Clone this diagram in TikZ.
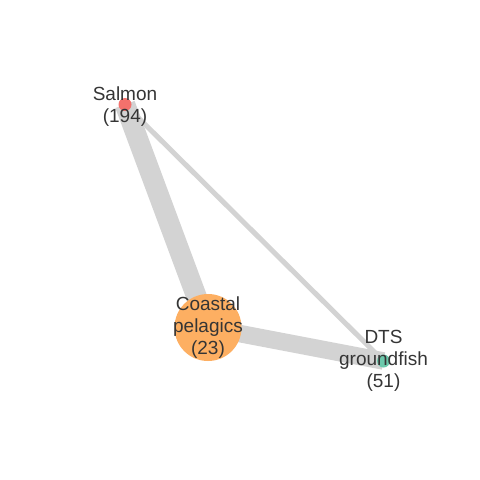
\documentclass[tikz,border=0pt]{standalone}
\usepackage{fontspec}
\setmainfont{Liberation Sans}
\definecolor{edgegray}{HTML}{D3D3D3}
\definecolor{salmonred}{HTML}{F4716C}
\definecolor{pelagicorange}{HTML}{FDAF62}
\definecolor{groundteal}{HTML}{6CC9AC}
\definecolor{labeltext}{HTML}{353535}
\tikzset{
  link/.style={draw=edgegray, line cap=butt},
  lbl/.style={text=labeltext, align=center, inner sep=0pt,
    font=\fontsize{19}{22}\selectfont}
}
\begin{document}
\begin{tikzpicture}[x=1pt, y=-1pt]
        \useasboundingbox (0,0) rectangle (480,480);
        \fill[white] (0,0) rectangle (480,480);

        \coordinate (salmon) at (125,104.5);
        \coordinate (coastal) at (208,327.5);
        \coordinate (dts) at (383.5,361);

        \draw[link, line width=5pt] (salmon) -- (dts);
        \draw[link, line width=20.5pt] (salmon) -- (coastal);
        \draw[link, line width=17.5pt] (coastal) -- (dts);

        \fill[salmonred] (salmon) circle (6.5pt);
        \fill[pelagicorange] (coastal) circle (33.5pt);
        \fill[groundteal] (dts) circle (6.5pt);

        \node[lbl, yshift=-2pt] (salmonlbl) at (salmon) {Salmon\\(194)};
        \node[lbl] (coastallbl) at (coastal) {Coastal\\pelagics\\(23)};
        \node[lbl] (dtslbl) at (dts) {DTS\\groundfish\\(51)};
    \end{tikzpicture}
\end{document}
